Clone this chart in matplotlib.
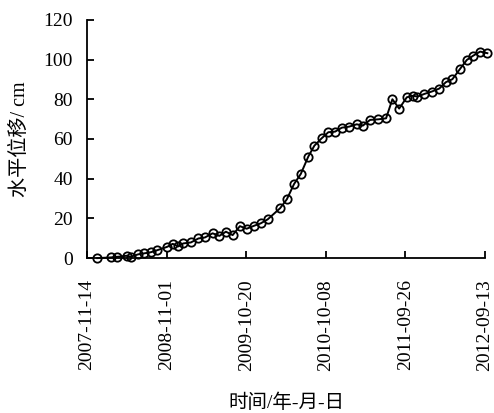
#!/usr/bin/env python3

import matplotlib
matplotlib.use("Agg")
import matplotlib.pyplot as plt
import matplotlib.dates as mdates
import pandas as pd

plt.rcParams['font.family'] = ['Liberation Serif', 'Noto Sans CJK SC', 'DejaVu Sans']

dates = [
	"2007-12-30", "2008-02-28", "2008-03-27", "2008-05-08", "2008-05-26",
	"2008-06-28", "2008-07-25", "2008-08-24", "2008-09-21", "2008-11-04",
	"2008-11-28", "2008-12-23", "2009-01-14", "2009-02-17", "2009-03-22",
	"2009-04-20", "2009-05-24", "2009-06-23", "2009-07-22", "2009-08-21",
	"2009-09-22", "2009-10-22", "2009-11-24", "2009-12-23", "2010-01-23",
	"2010-03-19", "2010-04-18", "2010-05-20", "2010-06-19", "2010-07-22",
	"2010-08-18", "2010-09-20", "2010-10-19", "2010-11-18", "2010-12-18",
	"2011-01-19", "2011-02-22", "2011-03-21", "2011-04-22", "2011-05-29",
	"2011-07-02", "2011-07-30", "2011-08-29", "2011-10-02", "2011-10-31",
	"2011-11-18", "2011-12-19", "2012-01-21", "2012-02-23", "2012-03-23",
	"2012-04-21", "2012-05-25", "2012-06-24", "2012-07-23", "2012-08-22",
	"2012-09-23",
]
displacement = [
	0.0, 0.35, 0.65, 1.2, 0.7,
	1.9, 2.4, 3.0, 4.0, 5.7,
	7.2, 5.9, 7.4, 7.9, 9.9,
	10.4, 12.5, 11.2, 13.3, 11.6,
	16.1, 14.8, 16.3, 17.5, 19.5,
	25.1, 29.6, 37.3, 42.4, 51.1,
	56.6, 60.4, 63.4, 63.7, 65.7,
	66.2, 67.4, 66.7, 69.6, 69.9,
	70.4, 80.0, 75.3, 81.0, 81.8,
	81.3, 82.7, 83.9, 85.4, 88.6,
	90.1, 95.3, 99.8, 102.0, 104.0,
	103.2,
]
tick_dates = ["2007-11-14", "2008-11-01", "2009-10-20", "2010-10-08", "2011-09-26", "2012-09-13"]
y_ticks = [0, 20, 40, 60, 80, 100, 120]

x = pd.to_datetime(dates)
xt = pd.to_datetime(tick_dates)

fig = plt.figure(figsize=(4.94, 4.13), dpi=100)
ax = fig.add_axes([0.176, 0.375, 0.806, 0.577])

ax.plot(x, displacement, color='black', linewidth=1.4, marker='o',
	markersize=6, markerfacecolor='none', markeredgecolor='black',
	markeredgewidth=1.3, clip_on=False, zorder=3)

ax.set_xlim(xt[0], xt[-1])
ax.set_ylim(0, 120)
ax.set_xticks(xt)
ax.xaxis.set_major_formatter(mdates.DateFormatter('%Y-%m-%d'))
ax.set_yticks(y_ticks)

for side in ('top', 'right'):
	ax.spines[side].set_visible(False)
for side in ('left', 'bottom'):
	ax.spines[side].set_linewidth(1.3)

ax.tick_params(axis='both', direction='in', length=5, width=1.3, labelsize=14)
ax.tick_params(axis='x', pad=15)
ax.tick_params(axis='y', pad=10)
plt.setp(ax.get_xticklabels(), rotation=90)

ax.set_ylabel("水平位移/ cm", fontsize=14.5, labelpad=10)
fig.text(0.58, 0.024, "时间/年-月-日", fontsize=14, ha='center', va='center')

fig.savefig("out.png", dpi=100)
